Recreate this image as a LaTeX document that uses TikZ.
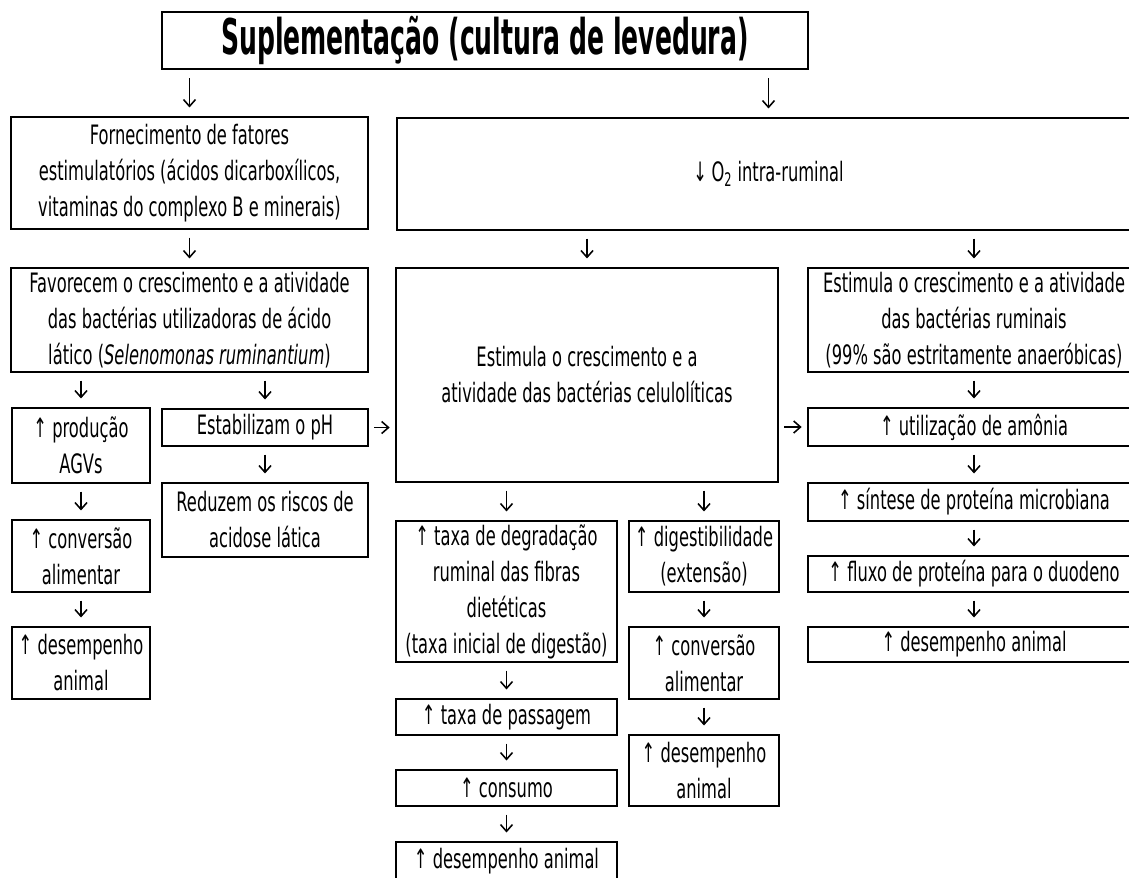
\documentclass[tikz,border=0pt]{standalone}
\usepackage{fontspec}
\usetikzlibrary{arrows.meta}
\setmainfont[FakeStretch=0.61]{DejaVu Sans}
\newfontfamily\titlefont[FakeStretch=0.51]{DejaVu Sans}
\begin{document}
\begin{tikzpicture}[x=0.025cm, y=-0.025cm, >={Straight Barb[length=1.7mm,width=3mm]},
    every node/.style={draw, line width=1pt, align=center, inner sep=0pt,
      font=\fontsize{19}{25.6}\selectfont},
    arr/.style={->, line width=1.1pt, shorten <=2mm, shorten >=2.2mm},
    harr/.style={->, line width=1.1pt, shorten <=1.4mm, shorten >=1.4mm}]
  \useasboundingbox (0,0) rectangle (1129,877);
  % top
  \node[minimum width=16.15cm, minimum height=1.425cm, line width=1.6pt,
    font=\titlefont\fontsize{35}{40}\selectfont\bfseries] (tit) at (485,40.5) {Suplementação (cultura de levedura)};
  \node[minimum width=8.925cm, minimum height=2.8cm] (fat) at (189.5,173) {Fornecimento de fatores\\estimulatórios (ácidos dicarboxílicos,\\vitaminas do complexo B e minerais)};
  \node[minimum width=18.575cm, minimum height=2.8cm] (oxi) at (768.5,174) {↓\,O\textsubscript{2} intra-ruminal};
  % middle
  \node[minimum width=8.925cm, minimum height=2.6cm] (fav) at (189.5,320) {Favorecem o crescimento e a atividade\\das bactérias utilizadoras de ácido\\lático (\textit{Selenomonas ruminantium})};
  \node[minimum width=9.55cm, minimum height=5.35cm] (cel) at (587,375) {Estimula o crescimento e a\\atividade das bactérias celulolíticas};
  \node[minimum width=8.3cm, minimum height=2.6cm] (rum) at (974,320) {Estimula o crescimento e a atividade\\das bactérias ruminais\\(99\% são estritamente anaeróbicas)};
  % left column
  \node[minimum width=3.45cm, minimum height=1.875cm] (agv) at (81,445.5) {↑ produção\\AGVs};
  \node[minimum width=3.45cm, minimum height=1.8cm] (conv1) at (81,556) {↑ conversão\\alimentar};
  \node[minimum width=3.45cm, minimum height=1.8cm] (des1) at (81,663) {↑ desempenho\\animal};
  \node[minimum width=5.15cm, minimum height=0.925cm] (ph) at (265,427.5) {Estabilizam o pH};
  \node[minimum width=5.15cm, minimum height=1.85cm] (aci) at (265,520) {Reduzem os riscos de\\acidose lática};
  % centre columns
  \node[minimum width=5.525cm, minimum height=3.525cm] (deg) at (506.5,591.5) {↑ taxa de degradação\\ruminal das fibras\\dietéticas\\(taxa inicial de digestão)};
  \node[minimum width=5.525cm, minimum height=0.9cm] (pas) at (506.5,717) {↑ taxa de passagem};
  \node[minimum width=5.525cm, minimum height=0.9cm] (con) at (506.5,788) {↑ consumo};
  \node[minimum width=5.525cm, minimum height=0.95cm] (des2) at (506.5,861) {↑ desempenho animal};
  \node[minimum width=3.75cm, minimum height=1.775cm] (dig) at (704,556.5) {↑ digestibilidade\\(extensão)};
  \node[minimum width=3.75cm, minimum height=1.8cm] (conv2) at (704,663) {↑ conversão\\alimentar};
  \node[minimum width=3.75cm, minimum height=1.775cm] (des3) at (704,770.5) {↑ desempenho\\animal};
  % right column
  \node[minimum width=8.3cm, minimum height=0.95cm] (amo) at (974,427) {↑ utilização de amônia};
  \node[minimum width=8.3cm, minimum height=0.95cm] (sin) at (974,502) {↑ síntese de proteína microbiana};
  \node[minimum width=8.3cm, minimum height=0.9cm] (flu) at (974,574) {↑ fluxo de proteína para o duodeno};
  \node[minimum width=8.3cm, minimum height=0.875cm] (des4) at (974,644.5) {↑ desempenho animal};
  % arrows
  \draw[arr] (tit.south -| fat) -- (fat);
  \draw[arr] (tit.south -| oxi) -- (oxi);
  \draw[arr] (cel |- oxi.south) -- (cel);
  \draw[arr] (rum |- oxi.south) -- (rum);
  \draw[arr] (agv |- fav.south) -- (agv);
  \draw[arr] (ph |- fav.south) -- (ph);
  \draw[arr] (deg |- cel.south) -- (deg);
  \draw[arr] (dig |- cel.south) -- (dig);
  \foreach \a/\b in {fat/fav, agv/conv1, conv1/des1, ph/aci, deg/pas, pas/con,
      con/des2, dig/conv2, conv2/des3, rum/amo, amo/sin, sin/flu, flu/des4}
    \draw[arr] (\a) -- (\b);
  \draw[harr] (ph) -- (ph -| cel.west);
  \draw[harr] (cel.east |- amo) -- (amo);
\end{tikzpicture}
\end{document}
